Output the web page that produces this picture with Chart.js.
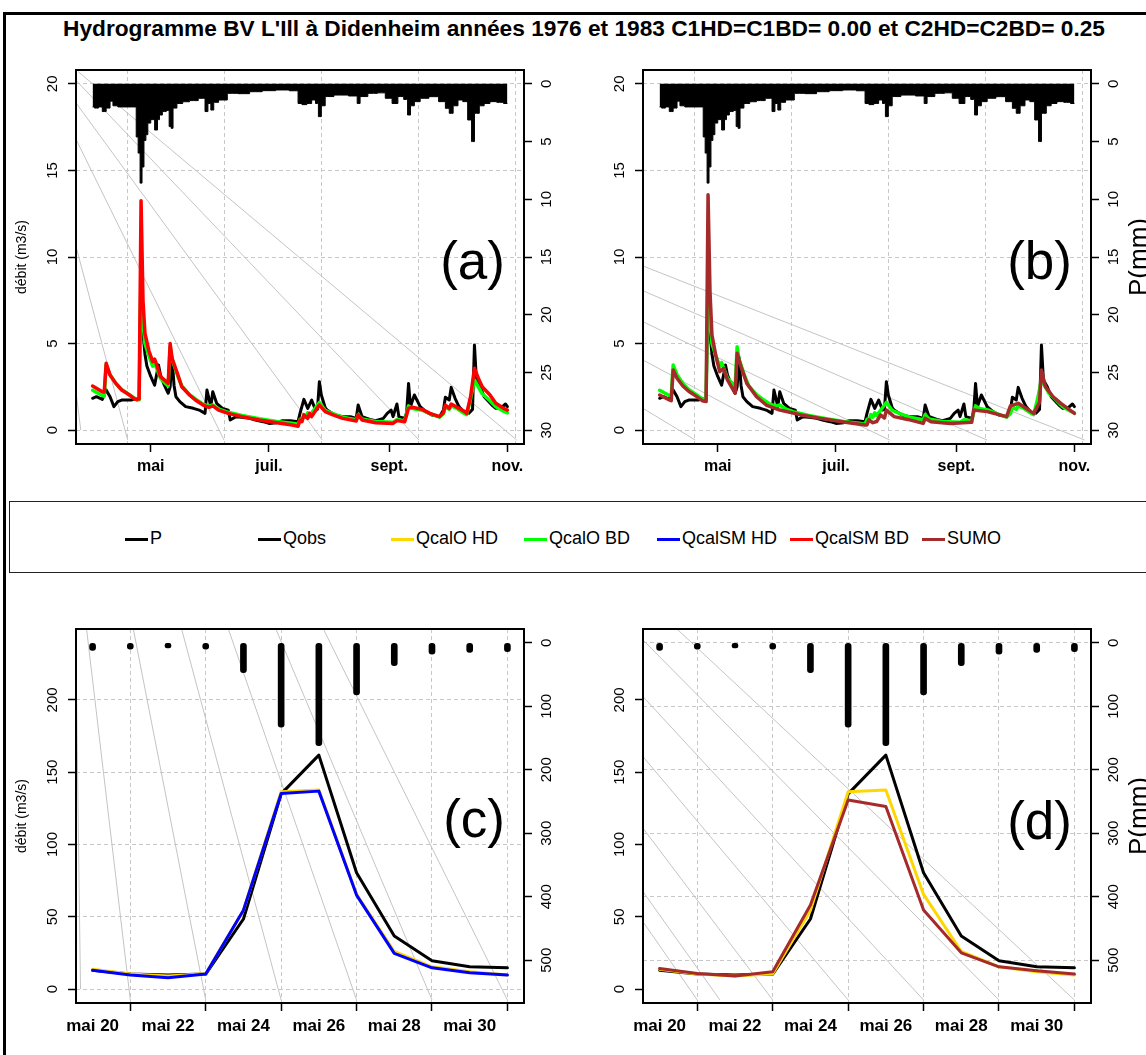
<!DOCTYPE html>
<html lang="fr">
<head>
<meta charset="utf-8">
<title>Hydrogramme BV L'Ill à Didenheim</title>
<script src="https://cdn.jsdelivr.net/npm/chart.js@4.4.1/dist/chart.umd.min.js"></script>
<style>
  html, body { margin: 0; padding: 0; background: #fff; }
  body { position: relative; width: 1146px; height: 1055px; overflow: hidden;
         font-family: "Liberation Sans", Arial, sans-serif; color: #000; }
  .frame { position: absolute; left: 3px; top: 12px; width: 1300px; height: 1200px;
           border-left: 3px solid #000; border-top: 3px solid #000; }
  .title { position: absolute; left: 0; top: 16px; width: 1168px; text-align: center;
           font-weight: bold; font-size: 22.7px; line-height: 24px; white-space: nowrap; }
  canvas { position: absolute; }
  .tag { position: absolute; width: 120px; text-align: right; font-size: 53px; line-height: 53px; }
  .unit { position: absolute; font-size: 26px; line-height: 26px; white-space: nowrap;
          transform: translate(-50%, -50%) rotate(-90deg); }
  .legend { position: absolute; left: 9px; top: 501px; width: 1200px; height: 70px; border: 1.5px solid #222; }
  .item { position: absolute; top: 26px; font-size: 18px; line-height: 20px; white-space: nowrap; }
  .item i { display: inline-block; width: 23px; height: 3px; vertical-align: middle; margin-right: 2px; }
</style>
</head>
<body>
<div class="frame"></div>
<div class="title">Hydrogramme BV L'Ill à Didenheim années 1976 et 1983 C1HD=C1BD= 0.00 et C2HD=C2BD= 0.25</div>

<canvas id="pa" width="579" height="450" style="left:0px;top:40px;width:579px;height:450px"></canvas>
<canvas id="pb" width="579" height="450" style="left:567px;top:40px;width:579px;height:450px"></canvas>
<canvas id="pc" width="579" height="455" style="left:0px;top:600px;width:579px;height:455px"></canvas>
<canvas id="pd" width="579" height="455" style="left:567px;top:600px;width:579px;height:455px"></canvas>

<div class="tag" style="left:385px;top:234px">(a)</div>
<div class="tag" style="left:952px;top:234px">(b)</div>
<div class="tag" style="left:385px;top:792px">(c)</div>
<div class="tag" style="left:952px;top:794px">(d)</div>
<div class="unit" style="left:1138px;top:257px">P(mm)</div>
<div class="unit" style="left:1138px;top:816px">P(mm)</div>

<div class="legend" id="legend"></div>

<script>
// ---------- saison 1976 : jours depuis le 1er avril ----------
const monthDays = [30, 91, 153, 214];
const monthLabels = ['mai', 'juil.', 'sept.', 'nov.'];
const gridDays = [18, 68, 118, 168, 218];
const qTicksSeason = [0, 5, 10, 15, 20];
const pTicksSeason = [0, 5, 10, 15, 20, 25, 30];

const qobsDays = [0,2,5,7,9,11,13,15,17,20,22,23,24,25,26,27,28,30,32,34,35,37,39,40,41,42,43,45,48,52,55,58,59,61,62,64,67,70,71,74,77,81,84,88,91,95,98,102,106,107,109,111,113,115,116,117,118,120,121,125,129,133,136,137,139,143,146,150,152,154,155,157,158,161,162,163,164,166,169,172,175,179,181,182,184,185,187,189,192,194,196,197,198,200,202,206,208,211,213,214];
const qobsVals = [1.84,1.93,1.78,2.32,1.93,1.36,1.65,1.74,1.74,1.74,1.84,1.74,1.8,8.6,5.6,4.4,3.7,3.1,2.6,3.76,3.2,2.6,2.13,2.5,4.2,2.6,1.93,1.65,1.36,1.26,1.16,0.97,2.32,1.36,2.22,1.55,1.26,1.16,0.59,0.78,0.74,0.68,0.59,0.49,0.39,0.43,0.55,0.55,0.49,0.97,1.78,1.26,1.74,1.16,1.2,2.8,2.03,1.3,1.16,0.88,0.78,0.78,0.68,1.45,0.78,0.62,0.55,0.68,0.97,1.16,0.78,1.51,0.78,0.68,1.0,2.7,1.36,2.03,1.36,1.07,0.88,0.78,1.16,1.9,1.74,2.47,1.84,1.36,0.97,0.97,1.2,4.92,2.9,2.51,1.93,1.45,1.26,1.32,1.51,1.36];

const qcalOBdDays = [0,5,6,7,9,12,15,19,22,24,25,26,27,29,31,32,33,35,38,39,40,41,44,46,50,53,57,60,62,65,70,77,86,95,103,106,107,108,109,110,111,112,117,120,124,129,136,137,139,146,155,157,161,163,165,170,174,179,181,182,184,185,188,192,193,195,197,199,201,205,208,212,214];
const qcalOBdVals = [2.3,2.0,1.95,3.76,3.2,2.7,2.35,2.05,1.8,1.75,9.3,6.2,5.0,4.3,3.7,3.9,3.6,3.0,2.65,2.55,4.82,4.1,3.1,2.55,2.05,1.8,1.5,1.38,1.45,1.22,1.03,0.85,0.66,0.5,0.4,0.34,0.62,0.55,0.9,0.75,1.0,0.85,1.6,1.15,0.95,0.75,0.6,0.9,0.65,0.5,0.45,0.6,0.55,1.4,1.25,1.15,0.95,0.75,0.95,1.35,1.2,1.4,1.25,0.95,0.9,1.8,2.9,2.5,2.1,1.7,1.35,1.1,1.0];

const qcalSMBdDays = [0,5,6,7,9,12,15,19,22,24,25,26,27,29,31,32,33,35,38,39,40,41,44,46,50,53,57,60,62,65,70,77,86,95,103,106,107,108,109,111,112,113,117,120,124,129,136,137,139,146,155,157,161,163,165,170,174,179,181,182,184,185,188,192,193,195,197,199,201,205,208,212,214];
const qcalSMBdVals = [2.55,2.22,2.2,3.86,3.18,2.7,2.32,2.03,1.78,1.8,13.25,7.5,5.6,4.6,3.96,4.1,3.8,3.1,2.8,2.7,5.0,4.15,3.19,2.51,2.03,1.74,1.45,1.32,1.4,1.16,0.97,0.78,0.59,0.43,0.3,0.22,0.59,0.49,0.88,0.68,0.97,0.78,1.45,1.07,0.88,0.68,0.53,0.88,0.59,0.43,0.39,0.55,0.49,1.26,1.32,1.2,0.97,0.78,1.01,1.45,1.26,1.51,1.32,1.07,0.97,1.93,3.57,3.0,2.51,2.03,1.55,1.26,1.16];

const sumoDays = [0,5,6,7,9,12,15,19,22,24,25,26,27,29,31,33,35,39,40,42,45,50,55,62,73,83,94,106,107,108,110,112,114,116,117,121,128,136,137,140,150,161,162,169,179,181,185,193,196,197,199,203,207,214];
const sumoVals = [2.03,1.75,1.7,3.48,3.0,2.55,2.25,1.95,1.7,1.65,13.6,8.0,5.5,4.3,3.38,3.57,2.9,2.13,4.44,3.67,2.7,1.93,1.45,1.16,0.88,0.68,0.49,0.3,0.3,0.59,0.43,0.5,0.88,0.7,1.16,0.78,0.62,0.39,0.68,0.49,0.39,0.45,1.16,1.07,0.78,1.4,1.55,0.97,1.6,3.48,2.51,1.93,1.55,0.97];

const pDays = [0,2,4,6,8,10,11,15,20,22,23,24,25,26,27,28,29,31,33,34,35,37,39,40,41,42,45,48,52,57,59,60,62,63,67,72,78,84,91,98,105,107,109,112,114,116,117,119,121,128,136,137,139,145,149,153,156,159,162,163,165,167,171,176,181,183,185,187,190,192,195,196,198,201,203,207,210,214];
const pVals = [2.0,2.1,2.0,2.4,2.1,1.5,1.9,2.0,2.0,2.0,4.6,6.0,8.6,7.2,4.9,4.4,3.4,3.1,4.0,3.1,2.7,2.4,2.3,3.7,3.85,2.1,1.7,1.55,1.45,1.25,2.4,1.7,2.27,1.6,1.4,0.82,0.85,0.68,0.59,0.53,0.6,1.7,1.8,1.7,1.4,1.7,2.84,1.9,1.1,0.97,1.05,1.7,1.1,0.82,0.78,1.25,1.7,1.1,1.35,2.7,1.9,1.54,1.25,1.11,1.54,2.12,2.55,1.9,1.4,1.54,3.13,5.0,2.55,1.9,1.7,1.54,1.6,1.7];

// droites guides grises [x0, y0, x1, y1] en unités (jour, débit)
const guidesA = [[-7.4,20.7,218.8,-0.57],[-8.56,20.2,168.4,-0.57],[-8.56,18.9,118.5,-0.57],[-8.56,16.8,67.8,-0.57],[-8.56,10.6,18.1,-0.57],[-8.56,2.2,-6.1,0]];
const guidesB = [[-8.56,9.48,219.3,-0.57],[-8.56,8.05,168.9,-0.57],[-8.56,6.26,118.7,-0.57],[-8.56,4.05,68.3,-0.57],[-8.56,1.26,18.4,-0.57]];

// ---------- crue de mai 1983 : jours depuis le 20 mai ----------
const crueIdx = [0,1,2,3,4,5,6,7,8,9,10,11];
const crueTicks = [0, 2, 4, 6, 8, 10];
const crueLabels = ['mai 20', 'mai 22', 'mai 24', 'mai 26', 'mai 28', 'mai 30'];
const crueGrid = [1, 3, 5, 7, 9, 11];
const qTicksCrue = [0, 50, 100, 150, 200];
const pTicksCrue = [0, 100, 200, 300, 400, 500];

const crueP = [12, 10, 8, 10, 47, 133, 162, 82, 36, 18, 15, 14];
const crueQobs = [13.1, 10.4, 9.7, 10.4, 48.5, 135, 161.8, 80.5, 36.7, 19.6, 15.4, 14.7];
const crueQcalOHD = [13.8, 10.5, 9.0, 10.6, 54.5, 136.5, 137.6, 65.5, 26, 15.4, 12, 9.8];
const crueQcalSMHD = [13.1, 9.7, 7.8, 10.4, 54.6, 135.3, 136.9, 65, 24.7, 14.7, 11.3, 9.7];
const crueSumo = [14.3, 10.8, 9.0, 12, 58.1, 130.8, 126.2, 54.7, 25.1, 15.4, 12.7, 10.4];

const guidesC = [[-0.45,249,-0.32,0],[-0.16,249,1,-7.5],[1.08,249,3,-7.5],[2.36,249,5,-7.5],[3.6,249,7,-7.5],[4.86,249,9,-7.5],[6.12,249,11,-7.5]];
const guidesD = [[0.46,249,11,-7.5],[-0.44,241.4,9,-7.5],[-0.44,202.2,7,-7.5],[-0.44,160.7,5,-7.5],[-0.44,111.2,3,-7.5],[-0.44,67.4,1.6,-7.5],[-0.44,46.6,1,-7.5]];

const legendLabels = ['P', 'Qobs', 'QcalO HD', 'QcalO BD', 'QcalSM HD', 'QcalSM BD', 'SUMO'];
const legendColors = ['#000000', '#000000', '#ffd700', '#00ff00', '#0000ff', '#ff0000', '#a52a2a'];

// ---------- helpers ----------
const FONT = '"Liberation Sans", Arial, sans-serif';
const pts = (xs, ys) => xs.map((x, i) => ({ x: x, y: ys[i] }));

function line(data, color, width) {
  return { type: 'line', data: data, borderColor: color, borderWidth: width, pointRadius: 0,
           tension: 0, fill: false, borderJoinStyle: 'round', borderCapStyle: 'round',
           xAxisID: 'x', yAxisID: 'y' };
}

function guides(list) {
  return list.map(g => ({ type: 'line', data: [{ x: g[0], y: g[1] }, { x: g[2], y: g[3] }],
    borderColor: '#c4c4c4', borderWidth: 1, pointRadius: 0, fill: false, xAxisID: 'x', yAxisID: 'y' }));
}

function hyeto() {
  return { type: 'line', data: pts(pDays, pVals), borderColor: '#000', backgroundColor: '#000',
           borderWidth: 1, pointRadius: 0, stepped: 'middle', fill: 'origin', xAxisID: 'x', yAxisID: 'yP' };
}

function bars() {
  return { type: 'bar', data: pts(crueIdx, crueP), backgroundColor: '#000', barThickness: 6,
           borderRadius: 3, borderSkipped: false, xAxisID: 'x', yAxisID: 'yP' };
}

const frameBox = {
  id: 'frameBox',
  afterDraw(chart) {
    const { ctx, chartArea: a } = chart;
    ctx.save();
    ctx.strokeStyle = '#000';
    ctx.lineWidth = 2;
    ctx.strokeRect(a.left, a.top, a.right - a.left, a.bottom - a.top);
    ctx.restore();
  }
};

function makeChart(id, o) {
  const at = vals => s => { s.ticks = vals.map(v => ({ value: v })); };
  const tickFont = { family: FONT, size: 15 };
  const gridDash = [4, 3];
  new Chart(document.getElementById(id), {
    type: 'line',
    data: { datasets: o.datasets },
    options: {
      responsive: false, animation: false, devicePixelRatio: 1,
      layout: { padding: { top: o.padTop, left: 0, right: 0, bottom: 0 } },
      plugins: { legend: { display: false }, tooltip: { enabled: false } },
      scales: {
        x: {
          type: 'linear', position: 'bottom', min: o.xRange[0], max: o.xRange[1], offset: false,
          afterBuildTicks: at(o.xTicks),
          ticks: { autoSkip: false, minRotation: 0, maxRotation: 0, padding: 5, color: '#000',
                   font: { family: FONT, size: o.xFont, weight: 'bold' },
                   callback: (v, i) => o.xLabels[i] },
          grid: { drawOnChartArea: false, tickLength: 8, tickColor: '#000', tickWidth: 1.5 },
          border: { display: false },
          afterFit: s => { s.height = o.xH; }
        },
        xg: {
          type: 'linear', position: 'bottom', min: o.xRange[0], max: o.xRange[1], offset: false,
          afterBuildTicks: at(o.xGrid),
          ticks: { display: false },
          grid: { drawTicks: false, color: '#c8c8c8', lineWidth: 1 },
          border: { display: false, dash: gridDash },
          afterFit: s => { s.height = 0; }
        },
        y: {
          type: 'linear', position: 'left', min: o.yRange[0], max: o.yRange[1],
          afterBuildTicks: at(o.yTicks),
          ticks: { autoSkip: false, minRotation: 90, maxRotation: 90, crossAlign: 'center',
                   padding: o.yPad, color: '#000', font: tickFont },
          grid: { drawOnChartArea: !o.gridRight, color: '#c8c8c8', lineWidth: 1,
                  tickLength: 8, tickColor: '#000', tickWidth: 1.5 },
          border: { display: false, dash: gridDash },
          title: { display: o.yTitle, text: 'débit (m3/s)', color: '#000',
                   font: { family: FONT, size: 14 }, padding: { top: 14, bottom: 0 } },
          afterFit: s => { s.width = 76; }
        },
        yP: {
          type: 'linear', position: 'right', reverse: true, min: o.pRange[0], max: o.pRange[1],
          afterBuildTicks: at(o.pTicks),
          ticks: { autoSkip: false, minRotation: 90, maxRotation: 90, crossAlign: 'center',
                   padding: o.pPad, color: '#000', font: tickFont },
          grid: { drawOnChartArea: !!o.gridRight, color: '#c8c8c8', lineWidth: 1,
                  tickLength: 8, tickColor: '#000', tickWidth: 1.5 },
          border: { display: false, dash: gridDash },
          afterFit: s => { s.width = 55; }
        }
      }
    },
    plugins: [frameBox]
  });
}

const season = {
  padTop: 30, xH: 46, xFont: 16, xRange: [-8.56, 222.56], xTicks: monthDays, xLabels: monthLabels, xGrid: gridDays,
  yRange: [-0.8, 20.8], yTicks: qTicksSeason, yPad: 7, pRange: [-1.2, 31.2], pTicks: pTicksSeason, pPad: 7
};
const crue = {
  padTop: 29, xH: 52, xFont: 17, xRange: [-0.44, 11.44], xTicks: crueTicks, xLabels: crueLabels, xGrid: crueGrid,
  yRange: [-9.6, 249], yTicks: qTicksCrue, yPad: 2.5, pRange: [-21.8, 567.4], pTicks: pTicksCrue, pPad: 2.5
};

makeChart('pa', Object.assign({}, season, { yTitle: true, datasets: [
  line(pts(qcalSMBdDays, qcalSMBdVals), '#ff0000', 3.5),
  line(pts(qcalOBdDays, qcalOBdVals), '#00ff00', 3.5),
  line(pts(qobsDays, qobsVals), '#000000', 3),
  hyeto()
].concat(guides(guidesA)) }));

makeChart('pb', Object.assign({}, season, { yTitle: false, datasets: [
  line(pts(sumoDays, sumoVals), '#a52a2a', 3.5),
  line(pts(qcalOBdDays, qcalOBdVals), '#00ff00', 3.5),
  line(pts(qobsDays, qobsVals), '#000000', 3),
  hyeto()
].concat(guides(guidesB)) }));

makeChart('pc', Object.assign({}, crue, { yTitle: true, datasets: [
  bars(),
  line(pts(crueIdx, crueQcalSMHD), '#0000ff', 3),
  line(pts(crueIdx, crueQcalOHD), '#ffd700', 3),
  line(pts(crueIdx, crueQobs), '#000000', 3)
].concat(guides(guidesC)) }));

makeChart('pd', Object.assign({}, crue, { yTitle: false, gridRight: true, datasets: [
  bars(),
  line(pts(crueIdx, crueSumo), '#a52a2a', 3),
  line(pts(crueIdx, crueQcalOHD), '#ffd700', 3),
  line(pts(crueIdx, crueQobs), '#000000', 3)
].concat(guides(guidesD)) }));

// légende horizontale
const legendX = [115, 248, 381, 514, 647, 780, 912];
const legend = document.getElementById('legend');
legendLabels.forEach((lab, i) => {
  const it = document.createElement('div');
  it.className = 'item';
  it.style.left = legendX[i] + 'px';
  const sw = document.createElement('i');
  sw.style.background = legendColors[i];
  it.appendChild(sw);
  it.appendChild(document.createTextNode(lab));
  legend.appendChild(it);
});
</script>
</body>
</html>
